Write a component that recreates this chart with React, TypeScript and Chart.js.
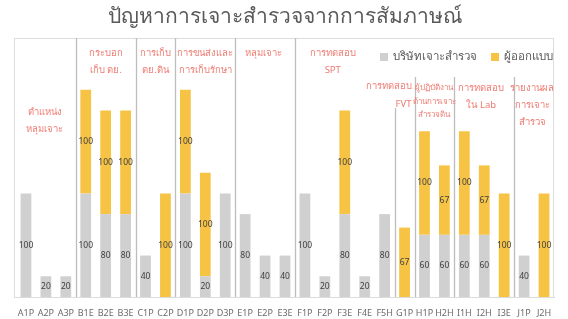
import React, { useEffect, useRef } from 'react';
import { Chart, registerables } from 'chart.js';

Chart.register(...registerables);

const chartTitle = 'ปัญหาการเจาะสำรวจจากการสัมภาษณ์';
const seriesNames = ['บริษัทเจาะสำรวจ', 'ผู้ออกแบบ'];
const categories = ['A1P', 'A2P', 'A3P', 'B1E', 'B2E', 'B3E', 'C1P', 'C2P', 'D1P', 'D2P', 'D3P', 'E1P', 'E2P', 'E3E', 'F1P', 'F2P', 'F3E', 'F4E', 'F5H', 'G1P', 'H1P', 'H2H', 'I1H', 'I2H', 'I3E', 'J1P', 'J2H'];
const companyValues = [100, 20, 20, 100, 80, 80, 40, 0, 100, 20, 100, 80, 40, 40, 100, 20, 80, 20, 80, 0, 60, 60, 60, 60, 0, 40, 0];
const designerValues = [0, 0, 0, 100, 100, 100, 0, 100, 100, 100, 0, 0, 0, 0, 0, 0, 100, 0, 0, 67, 100, 67, 100, 67, 100, 0, 100];
const groupLabels = [
  ['ตำแหน่ง', 'หลุมเจาะ'],
  ['กระบอก', 'เก็บ ตย.'],
  ['การเก็บ', 'ตย.ดิน'],
  ['การขนส่งและ', 'การเก็บรักษา'],
  ['หลุมเจาะ'],
  ['การทดสอบ', 'SPT'],
  ['การทดสอบ', 'FVT'],
  ['ผู้ปฏิบัติงาน', 'ด้านการเจาะ', 'สำรวจดิน'],
  ['การทดสอบ', 'ใน Lab'],
  ['รายงานผล', 'การเจาะ', 'สำรวจ'],
];
const groupStarts = [0, 3, 6, 8, 11, 14, 19, 20, 22, 25];

// layout of the annotation text (pixels relative to the chart area)
const groupLayout = [
  { dx: -1, top: 74, lh: 17, size: 9.5, align: 'center', sepTop: 0 },
  { dx: 0, top: 15, lh: 17, size: 9.5, align: 'center', sepTop: 0 },
  { dx: 0, top: 15, lh: 17, size: 9.5, align: 'center', sepTop: 0 },
  { dx: 0, top: 15, lh: 17, size: 9.5, align: 'center', sepTop: 0 },
  { dx: -2, top: 15, lh: 17, size: 9.5, align: 'center', sepTop: 0 },
  { dx: -12, top: 15, lh: 17, size: 9.5, align: 'center', sepTop: 0 },
  { dx: -3, top: 48, lh: 18, size: 9.5, align: 'right', sepTop: 70 },
  { dx: 0, top: 50, lh: 13.5, size: 8, align: 'center', sepTop: 39 },
  { dx: -3, top: 50, lh: 17, size: 9.5, align: 'center', sepTop: 39 },
  { dx: -2, top: 50, lh: 17, size: 9.5, align: 'center', sepTop: 39 },
];

const FONT = "'Noto Sans', 'DejaVu Sans', sans-serif";
const GRAY = '#d0d0d0';
const GOLD = '#f7c344';

const overlayPlugin = {
  id: 'overlay',
  beforeDatasetsDraw(chart: any) {
    const { ctx, chartArea: a, scales } = chart;
    const x = scales.x;
    ctx.save();
    ctx.strokeStyle = '#dcdcdc';
    ctx.lineWidth = 1;
    ctx.strokeRect(Math.round(a.left) - 1.5, Math.round(a.top) + 0.5, Math.round(a.right - a.left) + 1, Math.round(a.bottom - a.top));
    ctx.strokeStyle = '#bdbdbd';
    ctx.lineWidth = 1.3;
    groupStarts.forEach((s, gi) => {
      if (s === 0) return;
      const px = Math.round((x.getPixelForValue(s - 1) + x.getPixelForValue(s)) / 2) + 0.5;
      ctx.beginPath();
      ctx.moveTo(px, a.top + groupLayout[gi].sepTop);
      ctx.lineTo(px, a.bottom);
      ctx.stroke();
    });
    ctx.restore();
  },
  afterDatasetsDraw(chart: any) {
    const { ctx, chartArea: a, scales } = chart;
    const x = scales.x;
    ctx.save();
    // value labels
    ctx.font = `8.5px ${FONT}`;
    ctx.fillStyle = '#404040';
    ctx.textAlign = 'center';
    ctx.textBaseline = 'middle';
    chart.data.datasets.forEach((ds: any, di: number) => {
      const meta = chart.getDatasetMeta(di);
      meta.data.forEach((el: any, i: number) => {
        const v = ds.data[i];
        if (!v) return;
        ctx.fillText(String(v), el.x, (el.y + el.base) / 2);
      });
    });
    // group labels
    ctx.fillStyle = '#ee7b72';
    groupLabels.forEach((lines, gi) => {
      const L = groupLayout[gi];
      const s = groupStarts[gi];
      const e = gi + 1 < groupStarts.length ? groupStarts[gi + 1] - 1 : categories.length - 1;
      let cx = (x.getPixelForValue(s) + x.getPixelForValue(e)) / 2 + L.dx;
      if (L.align === 'right') cx = (x.getPixelForValue(e) + x.getPixelForValue(e + 1)) / 2 + L.dx;
      ctx.font = `${L.size}px ${FONT}`;
      ctx.textAlign = L.align as CanvasTextAlign;
      lines.forEach((t, li) => {
        ctx.fillText(t, cx, a.top + L.top + li * L.lh);
      });
    });
    // legend (inside the plot, top right)
    ctx.font = `11.5px ${FONT}`;
    ctx.textAlign = 'left';
    const colors = [GRAY, GOLD];
    const box = 8;
    const gapBoxText = 5;
    const gapItems = 14;
    let rx = a.right - 1;
    const ly = a.top + 19;
    const items = seriesNames.map((n, i) => ({ n, c: colors[i], w: ctx.measureText(n).width }));
    for (let i = items.length - 1; i >= 0; i--) {
      const it = items[i];
      const tx = rx - it.w;
      const bx = tx - gapBoxText - box;
      ctx.fillStyle = it.c;
      ctx.fillRect(bx, ly - box / 2, box, box);
      ctx.fillStyle = '#595959';
      ctx.fillText(it.n, tx, ly);
      rx = bx - gapItems;
    }
    ctx.restore();
  },
};

export default function App() {
  const ref = useRef<HTMLCanvasElement | null>(null);
  useEffect(() => {
    if (!ref.current) return;
    const chart = new Chart(ref.current, {
      type: 'bar',
      data: {
        labels: categories,
        datasets: [
          { label: seriesNames[0], data: companyValues, backgroundColor: GRAY },
          { label: seriesNames[1], data: designerValues, backgroundColor: GOLD },
        ],
      },
      options: {
        animation: false,
        responsive: true,
        maintainAspectRatio: false,
        layout: { padding: { left: 16, right: 14, top: 0, bottom: 0 } },
        datasets: { bar: { categoryPercentage: 1, barPercentage: 0.54 } },
        scales: {
          x: {
            stacked: true,
            grid: { display: false, drawTicks: false },
            border: { display: true, color: '#d9d9d9' },
            ticks: { font: { size: 9, family: FONT }, color: '#6a6a6a', padding: 11, maxRotation: 0, autoSkip: false },
            afterFit: (scale: any) => { scale.height = 22; },
          },
          y: { stacked: true, display: false, min: 0, max: 250 },
        },
        plugins: {
          title: {
            display: true,
            text: chartTitle,
            color: '#595959',
            font: { size: 21, weight: 'normal', family: FONT },
            padding: { top: 4, bottom: 8.8 },
          },
          legend: { display: false },
          tooltip: { enabled: false },
        },
      },
      plugins: [overlayPlugin],
    } as any);
    return () => chart.destroy();
  }, []);
  return (
    <div style={{ position: 'absolute', left: 0, top: 0, width: 568, height: 319 }}>
      <canvas ref={ref} />
    </div>
  );
}
